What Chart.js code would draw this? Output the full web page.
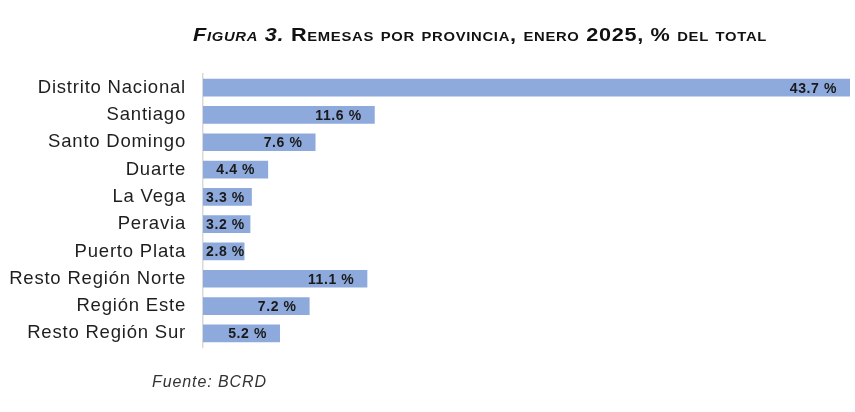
<!DOCTYPE html>
<html>
<head>
<meta charset="utf-8">
<script src="https://cdn.jsdelivr.net/npm/chart.js@4.4.1/dist/chart.umd.min.js"></script>
<style>
  body { margin: 0; background: #fff; font-family: "Liberation Sans", Arial, sans-serif; }
  #marco { position: relative; width: 855px; height: 412px; overflow: hidden; }
  #titulo {
    position: absolute; left: 193px; top: 24px; white-space: nowrap;
    font-size: 19px; font-weight: bold; font-variant: small-caps; color: #111;
    letter-spacing: 0.6px; transform: scaleX(1.14); transform-origin: left top;
  }
  #titulo i { font-style: italic; }
  #fuente {
    position: absolute; left: 152px; top: 373px;
    font-size: 16px; font-style: italic; color: #333; letter-spacing: 0.9px;
  }
  #caja { position: absolute; left: 0; top: 0; width: 855px; height: 412px; }
</style>
</head>
<body>
<div id="marco">
  <div id="caja"><canvas id="grafico"></canvas></div>
  <div id="titulo"><i>Figura 3.</i> Remesas por provincia, enero 2025, % del total</div>
  <div id="fuente">Fuente: BCRD</div>
</div>
<script>
const provincias = [
  "Distrito Nacional", "Santiago", "Santo Domingo", "Duarte", "La Vega",
  "Peravia", "Puerto Plata", "Resto Región Norte", "Región Este", "Resto Región Sur"
];
const porcentajes = [43.7, 11.6, 7.6, 4.4, 3.3, 3.2, 2.8, 11.1, 7.2, 5.2];

const ctx = document.getElementById("grafico").getContext("2d");

// etiquetas dentro de la barra, pegadas al final
const etiquetas = {
  id: "etiquetas",
  beforeDraw(chart) {
    chart.ctx.letterSpacing = "0.8px";
  },
  afterDatasetsDraw(chart) {
    const c = chart.ctx;
    const meta = chart.getDatasetMeta(0);
    c.save();
    c.letterSpacing = "0.6px";
    c.font = "bold 14px 'Liberation Sans', Arial, sans-serif";
    c.fillStyle = "#1a1a1a";
    c.textBaseline = "middle";
    meta.data.forEach((barra, i) => {
      const texto = porcentajes[i].toFixed(1) + " %";
      const ancho = c.measureText(texto).width;
      let x = barra.x - 13 - ancho;
      if (x < barra.base + 3) x = barra.base + 3;
      c.textAlign = "left";
      c.fillText(texto, x, barra.y + 1);
    });
    c.restore();
  }
};

new Chart(ctx, {
  type: "bar",
  data: {
    labels: provincias,
    datasets: [{
      data: porcentajes,
      backgroundColor: "#8eaadc",
      barPercentage: 0.65,
      categoryPercentage: 1
    }]
  },
  options: {
    indexAxis: "y",
    responsive: true,
    maintainAspectRatio: false,
    animation: false,
    layout: { padding: { top: 74, bottom: 65, right: 5, left: 0 } },
    plugins: {
      legend: { display: false },
      tooltip: { enabled: false }
    },
    scales: {
      x: { display: false, min: 0, max: 43.7 },
      y: {
        grid: { display: false, drawTicks: false },
        border: { display: true, color: "#d9d9d9", width: 1.5 },
        ticks: {
          padding: 17,
          color: "#1e1e1e",
          font: { family: "'Liberation Sans', Arial, sans-serif", size: 18.5 }
        },
        afterFit(scale) { scale.width = 203; }
      }
    }
  },
  plugins: [etiquetas]
});
</script>
</body>
</html>
